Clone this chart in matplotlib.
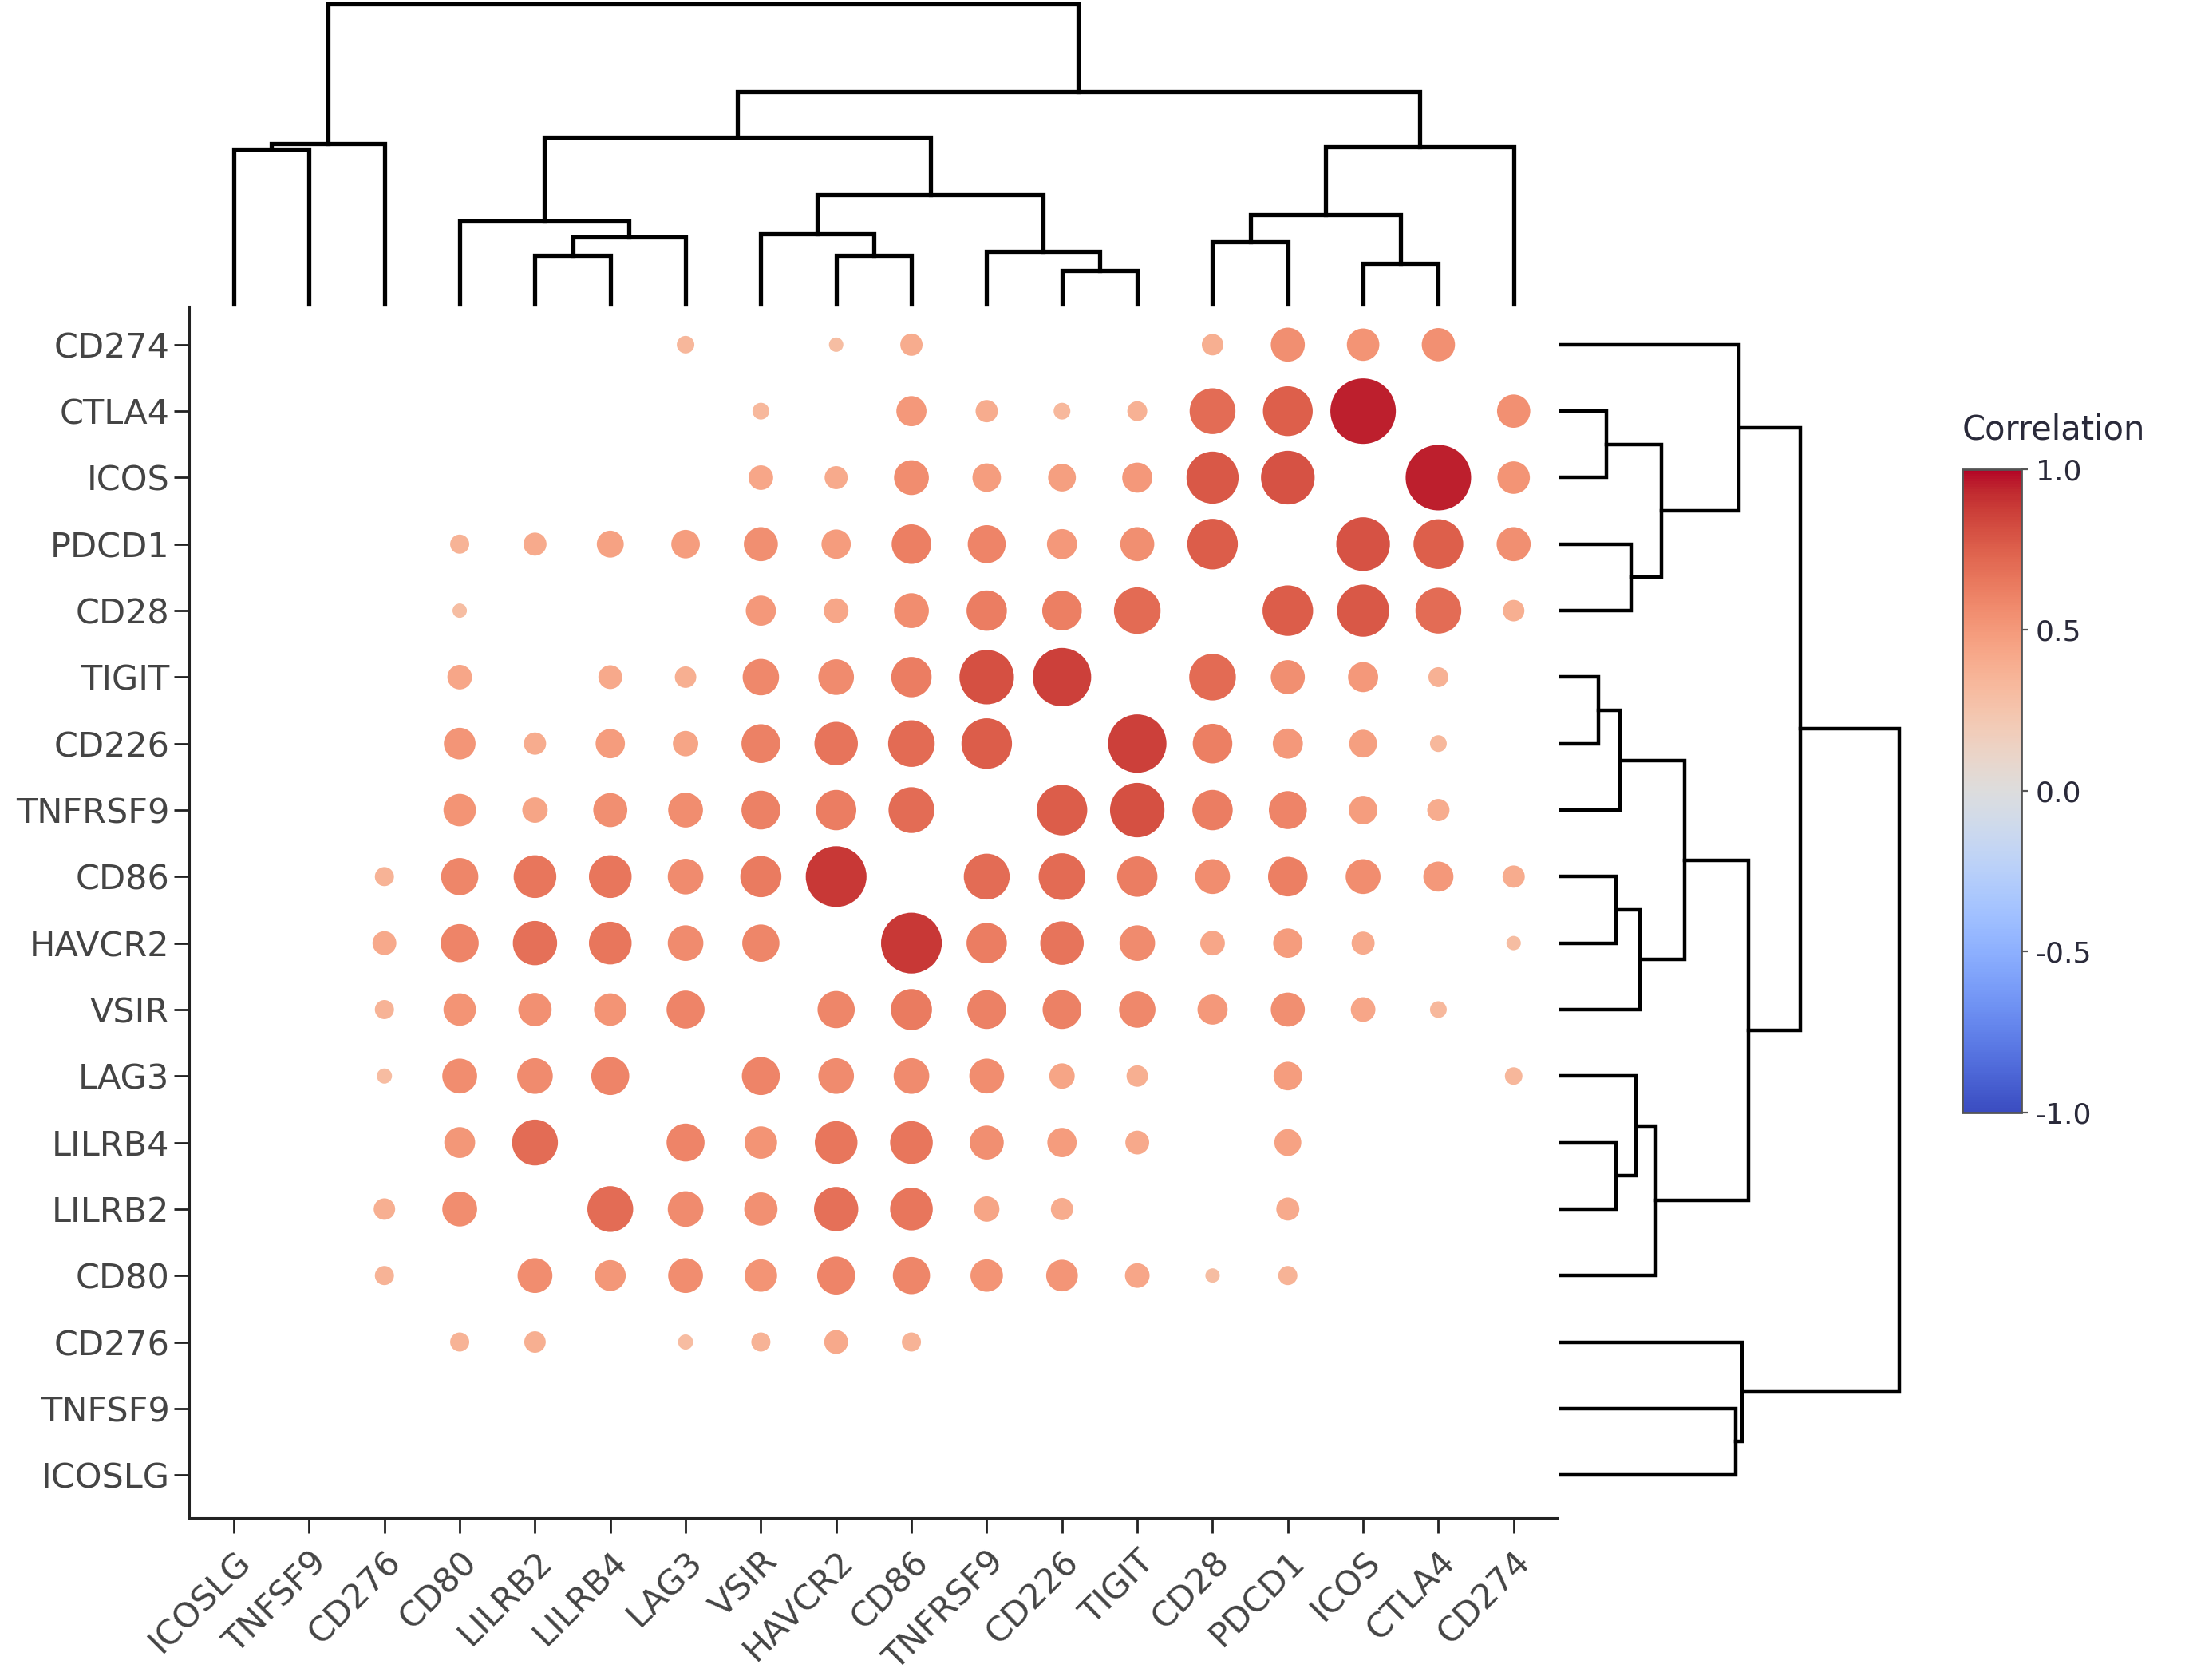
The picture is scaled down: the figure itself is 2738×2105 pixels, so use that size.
import numpy as np
import matplotlib.pyplot as plt
from matplotlib.cm import ScalarMappable
from matplotlib.colors import Normalize

plt.rcParams['axes.unicode_minus'] = False
plt.rcParams['font.family'] = 'DejaVu Sans'

# gene order of the clustered matrix (x left->right, y bottom->top)
genes = ['ICOSLG', 'TNFSF9', 'CD276', 'CD80', 'LILRB2', 'LILRB4', 'LAG3', 'VSIR',
         'HAVCR2', 'CD86', 'TNFRSF9', 'CD226', 'TIGIT', 'CD28', 'PDCD1', 'ICOS',
         'CTLA4', 'CD274']

# correlation matrix in gene order, 0 = not shown
corr = [
    [0, 0, 0, 0, 0, 0, 0, 0, 0, 0, 0, 0, 0, 0, 0, 0, 0, 0],
    [0, 0, 0, 0, 0, 0, 0, 0, 0, 0, 0, 0, 0, 0, 0, 0, 0, 0],
    [0, 0, 0, .36, .39, 0, .31, .36, .42, .36, 0, 0, 0, 0, 0, 0, 0, 0],
    [0, 0, .36, 0, .56, .51, .56, .53, .60, .59, .53, .52, .43, .30, .36, 0, 0, 0],
    [0, 0, .39, .56, 0, .70, .57, .54, .68, .66, .44, .40, 0, 0, .41, 0, 0, 0],
    [0, 0, 0, .51, .70, 0, .60, .53, .66, .66, .55, .49, .42, 0, .46, 0, 0, 0],
    [0, 0, .31, .56, .57, .60, 0, .60, .57, .57, .56, .44, .39, 0, .48, 0, 0, .34],
    [0, 0, .36, .53, .54, .53, .60, 0, .59, .64, .61, .61, .58, .50, .55, .43, .33, 0],
    [0, 0, .42, .60, .68, .66, .57, .59, 0, .89, .63, .67, .57, .43, .49, .41, 0, .30],
    [0, 0, .36, .59, .66, .66, .57, .64, .89, 0, .70, .71, .63, .56, .62, .56, .50, .40],
    [0, 0, 0, .53, .44, .55, .56, .61, .63, .70, 0, .76, .81, .63, .60, .48, .40, 0],
    [0, 0, 0, .52, .40, .49, .44, .61, .67, .71, .76, 0, .86, .62, .50, .47, .33, 0],
    [0, 0, 0, .43, 0, .42, .39, .58, .57, .63, .81, .86, 0, .71, .55, .50, .37, 0],
    [0, 0, 0, .30, 0, 0, 0, .50, .43, .56, .63, .62, .71, 0, .76, .78, .70, .39],
    [0, 0, 0, .36, .41, .46, .48, .55, .49, .62, .60, .50, .55, .76, 0, .80, .75, .55],
    [0, 0, 0, 0, 0, 0, 0, .43, .41, .56, .48, .47, .50, .78, .80, 0, .95, .53],
    [0, 0, 0, 0, 0, 0, 0, .33, 0, .50, .40, .33, .37, .70, .75, .95, 0, .54],
    [0, 0, 0, 0, 0, 0, .34, 0, .30, .40, 0, 0, 0, .39, .55, .53, .54, 0],
]

# hierarchical merges: (child a, child b, relative height)
merges = [
    ('ICOSLG', 'TNFSF9', 0.517),   # m0
    ('m0', 'CD276', 0.535),        # m1
    ('LILRB2', 'LILRB4', 0.162),   # m2
    ('m2', 'LAG3', 0.223),         # m3
    ('CD80', 'm3', 0.278),         # m4
    ('HAVCR2', 'CD86', 0.162),     # m5
    ('VSIR', 'm5', 0.233),         # m6
    ('CD226', 'TIGIT', 0.112),     # m7
    ('TNFRSF9', 'm7', 0.175),      # m8
    ('m6', 'm8', 0.365),           # m9
    ('m4', 'm9', 0.555),           # m10
    ('CD28', 'PDCD1', 0.208),      # m11
    ('ICOS', 'CTLA4', 0.135),      # m12
    ('m11', 'm12', 0.297),         # m13
    ('m13', 'CD274', 0.525),       # m14
    ('m10', 'm14', 0.708),         # m15
    ('m1', 'm15', 1.0),            # m16
]

text_col = '#444444'
n = len(genes)
M = np.array(corr)
rows, cols = np.nonzero(M)
vals = M[rows, cols]

fig = plt.figure(figsize=(13.69, 10.525), dpi=200)

# main dot matrix
ax = fig.add_axes([0.0867, 0.0963, 0.6257, 0.7211])
diam_px = 98.5 * (np.abs(vals) - 0.117)
ax.scatter(cols, rows, s=(diam_px * 72 / 200) ** 2, c=vals, cmap='coolwarm',
           vmin=-1, vmax=1, linewidths=0)
ax.set_xlim(-0.59, 17.57)
ax.set_ylim(-0.65, 17.57)
ax.set_xticks(range(n))
ax.set_xticklabels(genes, rotation=45, ha='right', rotation_mode='anchor')
ax.set_yticks(range(n))
ax.set_yticklabels(genes)
ax.tick_params(labelsize=15.5, labelcolor=text_col, length=7, width=1, color='#222222')
ax.tick_params(axis='x', pad=5)
ax.tick_params(axis='y', pad=2)
ax.spines['top'].set_visible(False)
ax.spines['right'].set_visible(False)
for s in ['left', 'bottom']:
    ax.spines[s].set_color('#222222')
    ax.spines[s].set_linewidth(1.1)

# dendrograms
ax_top = fig.add_axes([0.0867, 0.819, 0.6257, 0.1785])
ax_top.set_xlim(ax.get_xlim())
ax_top.set_ylim(0, 1)
ax_top.axis('off')

ax_right = fig.add_axes([0.7143, 0.0963, 0.155, 0.7211])
ax_right.set_ylim(ax.get_ylim())
ax_right.set_xlim(0, 1)
ax_right.axis('off')

pos = {g: i for i, g in enumerate(genes)}
hgt = {g: 0.0 for g in genes}
for k, (a, b, h) in enumerate(merges):
    pa, pb, ha, hb = pos[a], pos[b], hgt[a], hgt[b]
    ax_top.plot([pa, pa, pb, pb], [ha, h, h, hb], color='black', lw=1.9,
                clip_on=False, solid_joinstyle='miter')
    ax_right.plot([ha, h, h, hb], [pa, pa, pb, pb], color='black', lw=1.6,
                  clip_on=False, solid_joinstyle='miter')
    pos['m%d' % k] = (pa + pb) / 2
    hgt['m%d' % k] = h

# colorbar
cax = fig.add_axes([0.898, 0.3378, 0.027, 0.383])
cb = fig.colorbar(ScalarMappable(norm=Normalize(-1, 1), cmap='coolwarm'), cax=cax)
cb.set_ticks([-1, -0.5, 0, 0.5, 1])
cb.set_ticklabels(['-1.0', '-0.5', '0.0', '0.5', '1.0'])
cb.outline.set_edgecolor('#555555')
cb.outline.set_linewidth(1.0)
cax.tick_params(labelsize=13, labelcolor='#2a2a3a', length=3, color='#555555')
cax.text(0, 1.035, 'Correlation', transform=cax.transAxes, ha='left', va='bottom',
         fontsize=15, color='#2a2a3a')

fig.savefig('out.png', dpi=200)
